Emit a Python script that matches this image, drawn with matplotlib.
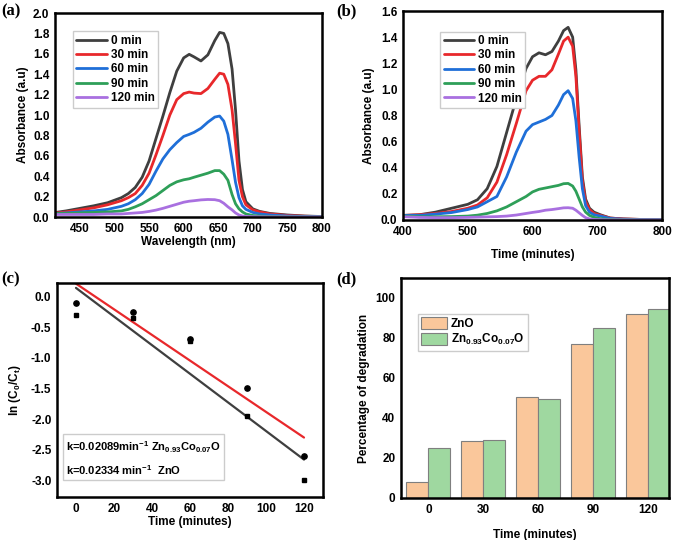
import numpy as np
import matplotlib
matplotlib.use("Agg")
import matplotlib.pyplot as plt

# ---- panel (a): absorbance spectra, wavelength (nm)
wl_a = [415, 430, 450, 470, 490, 510, 520, 530, 540, 550, 560, 570, 580, 590, 600, 608, 615, 625, 635, 645,
        652, 658, 664, 670, 675, 680, 685, 690, 700, 710, 725, 750, 775, 800]
a_0 = [0.045, 0.06, 0.085, 0.11, 0.14, 0.19, 0.23, 0.29, 0.39, 0.55, 0.77, 0.99, 1.22, 1.43, 1.56, 1.595, 1.57,
       1.53, 1.59, 1.73, 1.81, 1.80, 1.70, 1.45, 1.05, 0.55, 0.27, 0.15, 0.08, 0.055, 0.035, 0.02, 0.01, 0.005]
a_30 = [0.04, 0.05, 0.07, 0.09, 0.12, 0.16, 0.19, 0.23, 0.31, 0.43, 0.61, 0.80, 1.00, 1.15, 1.21, 1.225, 1.215,
        1.21, 1.26, 1.35, 1.41, 1.40, 1.30, 1.05, 0.72, 0.36, 0.20, 0.12, 0.07, 0.05, 0.03, 0.015, 0.008, 0.004]
a_60 = [0.035, 0.04, 0.05, 0.06, 0.075, 0.105, 0.13, 0.17, 0.23, 0.32, 0.45, 0.57, 0.66, 0.73, 0.79, 0.81, 0.83,
        0.87, 0.93, 0.98, 0.99, 0.94, 0.81, 0.56, 0.34, 0.19, 0.11, 0.075, 0.045, 0.03, 0.02, 0.01, 0.005, 0.003]
a_90 = [0.035, 0.035, 0.04, 0.045, 0.05, 0.06, 0.075, 0.10, 0.13, 0.17, 0.21, 0.26, 0.31, 0.345, 0.365, 0.375,
        0.39, 0.41, 0.43, 0.455, 0.455, 0.42, 0.36, 0.22, 0.13, 0.08, 0.05, 0.03, 0.015, 0.01, 0.005, 0.003,
        0.002, 0.002]
a_120 = [0.025, 0.025, 0.025, 0.025, 0.03, 0.03, 0.035, 0.04, 0.045, 0.055, 0.068, 0.085, 0.105, 0.125, 0.145,
         0.155, 0.16, 0.168, 0.172, 0.17, 0.16, 0.135, 0.10, 0.07, 0.04, 0.02, 0.01, 0.005, 0.003, 0.002, 0.001,
         0.001, 0.001, 0.001]

# ---- panel (b)
wl_b = [400, 425, 450, 475, 500, 515, 530, 545, 560, 575, 590, 600, 610, 620, 630, 640, 648, 655, 662, 667,
        672, 677, 682, 688, 695, 705, 720, 740, 770, 800]
b_0 = [0.035, 0.04, 0.06, 0.09, 0.12, 0.155, 0.24, 0.41, 0.67, 0.93, 1.16, 1.25, 1.28, 1.265, 1.29, 1.37, 1.45,
       1.475, 1.40, 1.15, 0.72, 0.33, 0.16, 0.09, 0.06, 0.04, 0.015, 0.008, 0.004, 0.002]
b_30 = [0.035, 0.04, 0.05, 0.065, 0.09, 0.115, 0.17, 0.29, 0.50, 0.74, 0.99, 1.07, 1.10, 1.10, 1.15, 1.27, 1.37,
        1.40, 1.33, 1.10, 0.68, 0.30, 0.14, 0.08, 0.05, 0.035, 0.015, 0.008, 0.004, 0.002]
b_60 = [0.035, 0.035, 0.045, 0.057, 0.08, 0.10, 0.14, 0.18, 0.33, 0.52, 0.68, 0.73, 0.75, 0.77, 0.80, 0.88, 0.96,
        0.99, 0.93, 0.76, 0.48, 0.24, 0.11, 0.06, 0.04, 0.03, 0.012, 0.006, 0.003, 0.002]
b_90 = [0.03, 0.025, 0.025, 0.026, 0.03, 0.037, 0.05, 0.07, 0.10, 0.14, 0.18, 0.215, 0.235, 0.245, 0.255, 0.265,
        0.278, 0.28, 0.26, 0.22, 0.16, 0.10, 0.06, 0.035, 0.02, 0.01, 0.005, 0.003, 0.002, 0.002]
b_120 = [0.025, 0.02, 0.018, 0.018, 0.02, 0.022, 0.024, 0.026, 0.03, 0.038, 0.05, 0.058, 0.065, 0.075, 0.08,
         0.087, 0.093, 0.094, 0.09, 0.075, 0.055, 0.035, 0.018, 0.008, 0.004, 0.002, 0.001, 0.001, 0.001, 0.001]

series_labels = ["0 min", "30 min", "60 min", "90 min", "120 min"]
series_colors = ["#3f3f3f", "#e8282b", "#1f6fd8", "#2e9f58", "#a970e0"]

# ---- panel (c): kinetics
t_c = [0, 30, 60, 90, 120]
ln_circle = [-0.10, -0.25, -0.70, -1.50, -2.60]
ln_square = [-0.30, -0.35, -0.72, -1.95, -3.00]
fit_x = [0, 120]
fit_red = [0.21, -2.30]
fit_black = [0.14, -2.66]

# ---- panel (d): degradation
time_cats = ["0", "30", "60", "90", "120"]
deg_zno = [8, 28.5, 50.5, 77, 92]
deg_zco = [25, 29, 49.5, 85, 94.5]

plt.rcParams['font.family'] = ['Liberation Sans', 'DejaVu Sans']
plt.rcParams['font.weight'] = 'bold'
plt.rcParams['font.size'] = 8.5
plt.rcParams['axes.labelweight'] = 'bold'
plt.rcParams['mathtext.fontset'] = 'custom'
plt.rcParams['mathtext.rm'] = 'Liberation Sans:bold'
plt.rcParams['mathtext.it'] = 'Liberation Sans:bold'
plt.rcParams['mathtext.bf'] = 'Liberation Sans:bold'
plt.rcParams['axes.unicode_minus'] = False
plt.rcParams['lines.solid_joinstyle'] = 'round'
plt.rcParams['lines.solid_capstyle'] = 'round'

fig = plt.figure(figsize=(6.76, 5.4), dpi=100)
ax_a = fig.add_axes([0.0814, 0.5981, 0.3949, 0.3778])
ax_b = fig.add_axes([0.5962, 0.5926, 0.3831, 0.3870])
ax_c = fig.add_axes([0.0843, 0.0796, 0.3935, 0.3963])
ax_d = fig.add_axes([0.5932, 0.0778, 0.3964, 0.4074])


def style(ax):
    for s in ax.spines.values():
        s.set_linewidth(1.8)
        s.set_color('black')
    ax.tick_params(length=0, pad=4)


# (a)
for ys, lab, c in zip([a_0, a_30, a_60, a_90, a_120], series_labels, series_colors):
    ax_a.plot(wl_a, ys, color=c, lw=2.0, label=lab)
ax_a.set_xlim(414, 800)
ax_a.set_ylim(0, 2.0)
ax_a.set_xticks(np.arange(450, 801, 50))
ax_a.set_yticks(np.arange(0, 2.01, 0.2))
ax_a.yaxis.set_major_formatter(matplotlib.ticker.FormatStrFormatter('%.1f'))
ax_a.set_xlabel('Wavelength (nm)', labelpad=1)
ax_a.set_ylabel('Absorbance (a.u)', labelpad=3)
ax_a.legend(loc='upper left', bbox_to_anchor=(0.045, 0.94), handlelength=2.6, handletextpad=0.3,
            labelspacing=0.2, borderpad=0.3, fancybox=False, edgecolor='#cccccc', framealpha=1)
style(ax_a)

# (b)
for ys, lab, c in zip([b_0, b_30, b_60, b_90, b_120], series_labels, series_colors):
    ax_b.plot(wl_b, ys, color=c, lw=2.0, label=lab)
ax_b.set_xlim(400, 800)
ax_b.set_ylim(0, 1.6)
ax_b.set_xticks(np.arange(400, 801, 100))
ax_b.set_yticks(np.arange(0, 1.61, 0.2))
ax_b.yaxis.set_major_formatter(matplotlib.ticker.FormatStrFormatter('%.1f'))
ax_b.set_xlabel('Time (minutes)', labelpad=8)
ax_b.set_ylabel('Absorbance (a.u)', labelpad=4)
ax_b.legend(loc='upper left', bbox_to_anchor=(0.12, 0.93), handlelength=2.6, handletextpad=0.3,
            labelspacing=0.2, borderpad=0.3, fancybox=False, edgecolor='#cccccc', framealpha=1)
style(ax_b)

# (c)
ax_c.plot(fit_x, fit_red, color='#e8282b', lw=1.6)
ax_c.plot(fit_x, fit_black, color='#3f3f3f', lw=1.6)
ax_c.plot(t_c, ln_circle, 'o', color='black', ms=3.8)
ax_c.plot(t_c, ln_square, 's', color='black', ms=3.2)
ax_c.set_xlim(-10, 130)
ax_c.set_ylim(-3.27, 0.22)
ax_c.set_xticks(np.arange(0, 121, 20))
ax_c.set_yticks(np.arange(-3.0, 0.01, 0.5))
ax_c.yaxis.set_major_formatter(matplotlib.ticker.FormatStrFormatter('%.1f'))
ax_c.set_xlabel('Time (minutes)', labelpad=1)
ax_c.set_ylabel(r'ln (C$_{0}$/C$_{t}$)', labelpad=6)
ax_c.text(0.035, 0.095,
          'k=0.02089min$^{-1}$ Zn$_{0.93}$Co$_{0.07}$O\nk=0.02334 min$^{-1}$  ZnO',
          transform=ax_c.transAxes, ha='left', va='bottom', fontsize=8, linespacing=1.7,
          bbox=dict(boxstyle='square,pad=0.3', fc='white', ec='#cccccc', lw=1))
style(ax_c)

# (d)
x = np.arange(len(time_cats))
ax_d.bar(x - 0.2, deg_zno, 0.4, color='#fac79b', edgecolor='#7f7f7f', lw=0.8, label='ZnO')
ax_d.bar(x + 0.2, deg_zco, 0.4, color='#9fd8a0', edgecolor='#7f7f7f', lw=0.8,
         label=r'Zn$_{0.93}$Co$_{0.07}$O')
ax_d.set_xlim(-0.5, 4.38)
ax_d.set_ylim(0, 110)
ax_d.set_xticks(x)
ax_d.set_xticklabels(time_cats)
ax_d.set_yticks(np.arange(0, 101, 20))
ax_d.set_xlabel('Time (minutes)', labelpad=10)
ax_d.set_ylabel('Percentage of degradation', labelpad=4)
ax_d.legend(loc='upper left', bbox_to_anchor=(0.04, 0.865), handlelength=2.2, handleheight=1.2,
            handletextpad=0.3, labelspacing=0.15, borderpad=0.3, fancybox=False,
            edgecolor='#cccccc', framealpha=1)
style(ax_d)

for lab, xx, yy in [('(a)', 0.002, 0.993), ('(b)', 0.497, 0.993), ('(c)', 0.002, 0.497), ('(d)', 0.497, 0.497)]:
    fig.text(xx, yy, lab, family=['Liberation Serif', 'DejaVu Serif'], weight='bold', fontsize=12,
             ha='left', va='top')

fig.savefig('out.png', dpi=100)
